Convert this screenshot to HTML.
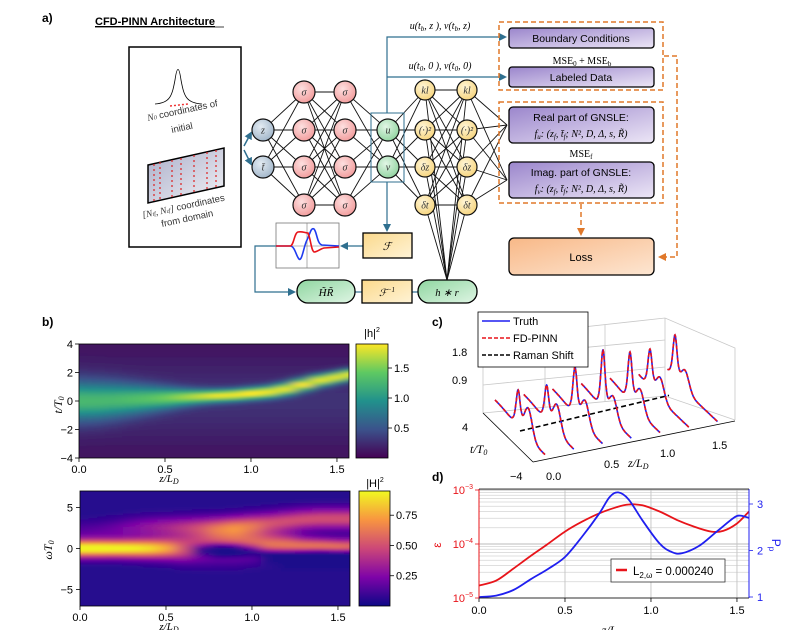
<!DOCTYPE html>
<html><head><meta charset="utf-8">
<style>
html,body{margin:0;padding:0;background:#fff;}
svg{display:block;font-family:"Liberation Sans",sans-serif;}
.serif{font-family:"Liberation Serif",serif;font-style:italic;}
</style></head>
<body>
<svg id="fig" width="792" height="630" viewBox="0 0 792 630" xmlns="http://www.w3.org/2000/svg">
<defs>
  <linearGradient id="boxPurple" x1="0" y1="0" x2="1" y2="1"><stop offset="0" stop-color="#9b86cc"/><stop offset="1" stop-color="#ece6f6"/></linearGradient>
  <linearGradient id="boxOrange" x1="0" y1="0" x2="1" y2="1"><stop offset="0" stop-color="#f8b887"/><stop offset="1" stop-color="#fde6d2"/></linearGradient>
  <linearGradient id="boxYellow" x1="0" y1="0" x2="1" y2="1"><stop offset="0" stop-color="#fbd98c"/><stop offset="1" stop-color="#fff3d6"/></linearGradient>
  <linearGradient id="boxGreen" x1="0" y1="0" x2="1" y2="1"><stop offset="0" stop-color="#8fd6a0"/><stop offset="1" stop-color="#dff5e4"/></linearGradient>
  <linearGradient id="domainGrad" x1="0" y1="0" x2="1" y2="1"><stop offset="0" stop-color="#a9adc8"/><stop offset="1" stop-color="#f2f2f6"/></linearGradient>
  <radialGradient id="nodeRed" cx="0.4" cy="0.35" r="0.7"><stop offset="0" stop-color="#fde0e0"/><stop offset="1" stop-color="#f29a9a"/></radialGradient>
  <radialGradient id="nodeBlue" cx="0.4" cy="0.35" r="0.7"><stop offset="0" stop-color="#e4ecf3"/><stop offset="1" stop-color="#9fb4c8"/></radialGradient>
  <radialGradient id="nodeGreen" cx="0.4" cy="0.35" r="0.7"><stop offset="0" stop-color="#e2f6e6"/><stop offset="1" stop-color="#8fd39e"/></radialGradient>
  <radialGradient id="nodeYellow" cx="0.4" cy="0.35" r="0.7"><stop offset="0" stop-color="#fff6d8"/><stop offset="1" stop-color="#f6d37a"/></radialGradient>
  <linearGradient id="cbViridis" x1="0" y1="1" x2="0" y2="0"><stop offset="0" stop-color="#440154"/><stop offset="0.25" stop-color="#3b528b"/><stop offset="0.5" stop-color="#21918c"/><stop offset="0.75" stop-color="#5ec962"/><stop offset="1" stop-color="#fde725"/></linearGradient>
  <linearGradient id="cbPlasma" x1="0" y1="1" x2="0" y2="0"><stop offset="0" stop-color="#0d0887"/><stop offset="0.25" stop-color="#7e03a8"/><stop offset="0.5" stop-color="#cc4778"/><stop offset="0.75" stop-color="#f89540"/><stop offset="1" stop-color="#f0f921"/></linearGradient>
  <filter id="hblur" x="-10%" y="-10%" width="120%" height="120%"><feGaussianBlur stdDeviation="7 1"/></filter>
  <clipPath id="clipH1"><rect x="79" y="344" width="270" height="114"/></clipPath>
  <clipPath id="clipH2"><rect x="80" y="491" width="270" height="115"/></clipPath>
  <marker id="arrBlue" markerWidth="8" markerHeight="8" refX="6" refY="4" orient="auto" markerUnits="userSpaceOnUse"><path d="M0,0 L8,4 L0,8 z" fill="#2f6f8f"/></marker>
  <marker id="arrOrange" markerWidth="8" markerHeight="8" refX="6" refY="4" orient="auto" markerUnits="userSpaceOnUse"><path d="M0,0 L8,4 L0,8 z" fill="#e0782a"/></marker>
</defs>

<!-- ================= PANEL A ================= -->
<g>
  <text x="42" y="22" font-size="12" font-weight="bold">a)</text>
  <text x="95" y="25" font-size="11" font-weight="bold" text-decoration="underline">CFD-PINN Architecture</text>
  <line x1="95" y1="27" x2="224" y2="27" stroke="#000" stroke-width="0.8"/>

  <g>
    <rect x="129" y="47" width="112" height="200" fill="#fff" stroke="#000" stroke-width="1.5"/>
    <path d="M155,104 C170,103 172,96 175,80 C177,66 179,66 181,80 C184,96 186,103 202,104" fill="none" stroke="#000" stroke-width="0.8"/>
    <line x1="170" y1="106" x2="188" y2="104" stroke="#e33" stroke-width="1.5" stroke-dasharray="2 2"/>
    <text x="148" y="121" font-size="9.5" fill="#333" transform="rotate(-12 148 121)"><tspan class="serif">N</tspan><tspan font-size="6" class="serif">0</tspan> coordinates of</text>
    <text x="172" y="133" font-size="9.5" fill="#333" transform="rotate(-12 172 133)">initial</text>
    <polygon points="148,165 224,148 224,186 148,203" fill="url(#domainGrad)" stroke="#000" stroke-width="1.5"/>
    <g stroke="#d22" stroke-width="1.2" stroke-dasharray="2 3">
      <line x1="154" y1="164" x2="154" y2="202"/><line x1="160" y1="162" x2="160" y2="200"/><line x1="172" y1="160" x2="172" y2="198"/>
      <line x1="181" y1="158" x2="181" y2="196"/><line x1="194" y1="155" x2="194" y2="193"/><line x1="207" y1="152" x2="207" y2="190"/>
      <line x1="216" y1="150" x2="216" y2="188"/>
    </g>
    <text x="143" y="218" font-size="9.5" fill="#333" transform="rotate(-12 143 218)"><tspan class="serif">[N</tspan><tspan font-size="6" class="serif">tf</tspan><tspan class="serif">, N</tspan><tspan font-size="6" class="serif">zf</tspan><tspan class="serif">]</tspan> coordinates</text>
    <text x="162" y="227" font-size="9.5" fill="#333" transform="rotate(-12 162 227)">from domain</text>
  </g>
  <line x1="244" y1="146" x2="251" y2="133" stroke="#2f6f8f" stroke-width="1.5" marker-end="url(#arrBlue)"/>
  <line x1="244" y1="150" x2="251" y2="164" stroke="#2f6f8f" stroke-width="1.5" marker-end="url(#arrBlue)"/>

  <g id="netLines"></g>
  <rect x="371" y="113" width="33" height="69" fill="none" stroke="#2f6f8f" stroke-width="1"/>
  <g id="netNodes"></g>

  <g stroke="#2f6f8f" stroke-width="1.2" fill="none">
    <polyline points="387,113 387,37 505,37" marker-end="url(#arrBlue)"/>
    <polyline points="387,77 505,77" marker-end="url(#arrBlue)"/>
    <polyline points="387,182 387,230" marker-end="url(#arrBlue)"/>
    <polyline points="363,246 342,246" marker-end="url(#arrBlue)"/>
    <polyline points="276,246 255,246 255,292 294,292" marker-end="url(#arrBlue)"/>
    <line x1="355" y1="292" x2="362" y2="292"/>
    <line x1="412" y1="292" x2="418" y2="292"/>
  </g>
  <text x="440" y="29" font-size="10" class="serif" text-anchor="middle">u(t<tspan font-size="7" dy="2">b</tspan><tspan dy="-2">, z ), v(t</tspan><tspan font-size="7" dy="2">b</tspan><tspan dy="-2">, z)</tspan></text>
  <text x="440" y="69" font-size="10" class="serif" text-anchor="middle">u(t<tspan font-size="7" dy="2">0</tspan><tspan dy="-2">, 0 ), v(t</tspan><tspan font-size="7" dy="2">0</tspan><tspan dy="-2">, 0)</tspan></text>

  <g>
    <rect x="363" y="233" width="49" height="25" fill="url(#boxYellow)" stroke="#000" stroke-width="1.3"/>
    <text x="387" y="250" font-size="11" class="serif" text-anchor="middle">ℱ</text>
  </g>
  <g>
    <rect x="276" y="223" width="63" height="45" fill="#fff" stroke="#777" stroke-width="0.8"/>
    <line x1="307" y1="223" x2="307" y2="268" stroke="#777" stroke-width="0.6"/>
    <line x1="276" y1="246" x2="339" y2="246" stroke="#777" stroke-width="0.6"/>
    <path d="M276,246 L290,246 C295,246 296,256 299,259 C302,262 304,245 307,240 C310,234 311,227 314,229 C317,232 317,244 322,245 L339,246" fill="none" stroke="#1f3cf0" stroke-width="1.6"/>
    <path d="M276,246 L290,246 C294,246 294,233 298,232 C302,231 305,233 308,233 C311,240 311,250 314,252 C317,252 320,249 324,248 L339,247" fill="none" stroke="#e8141a" stroke-width="1.6"/>
  </g>
  <g>
    <rect x="297" y="280" width="58" height="23" rx="11" fill="url(#boxGreen)" stroke="#000" stroke-width="1.3"/>
    <text x="326" y="296" font-size="11" class="serif" text-anchor="middle">H̃R̃</text>
  </g>
  <g>
    <rect x="362" y="280" width="50" height="23" fill="url(#boxYellow)" stroke="#000" stroke-width="1.3"/>
    <text x="387" y="296" font-size="10" class="serif" text-anchor="middle">ℱ<tspan font-size="7" dy="-4">−1</tspan></text>
  </g>
  <g>
    <rect x="418" y="280" width="59" height="23" rx="11" fill="url(#boxGreen)" stroke="#000" stroke-width="1.3"/>
    <text x="447" y="296" font-size="10.5" class="serif" text-anchor="middle">h ∗ r</text>
  </g>

  <rect x="499" y="22" width="164" height="68" fill="none" stroke="#e0782a" stroke-width="1.5" stroke-dasharray="5 3"/>
  <rect x="499" y="102" width="164" height="101" fill="none" stroke="#e0782a" stroke-width="1.5" stroke-dasharray="5 3"/>
  <g>
    <rect x="509" y="28" width="145" height="20" rx="3" fill="url(#boxPurple)" stroke="#000" stroke-width="1.3"/>
    <text x="581" y="42" font-size="10.5" text-anchor="middle">Boundary Conditions</text>
  </g>
  <text x="582" y="64" font-size="10" font-family="Liberation Serif" text-anchor="middle">MSE<tspan font-size="7" dy="2">0</tspan><tspan dy="-2"> + MSE</tspan><tspan font-size="7" dy="2">b</tspan></text>
  <g>
    <rect x="509" y="67" width="145" height="20" rx="3" fill="url(#boxPurple)" stroke="#000" stroke-width="1.3"/>
    <text x="581" y="81" font-size="10.5" text-anchor="middle">Labeled Data</text>
  </g>
  <g>
    <rect x="509" y="107" width="145" height="36" rx="4" fill="url(#boxPurple)" stroke="#000" stroke-width="1.3"/>
    <text x="581" y="121" font-size="10.5" text-anchor="middle">Real part of GNSLE:</text>
    <text x="581" y="137" font-size="10" class="serif" text-anchor="middle">f<tspan font-size="7" dy="2">u</tspan><tspan dy="-2">: (z</tspan><tspan font-size="7" dy="2">f</tspan><tspan dy="-2">, t̄</tspan><tspan font-size="7" dy="2">f</tspan><tspan dy="-2">; N², D, Δ, s, R̃)</tspan></text>
  </g>
  <text x="581" y="157" font-size="10" font-family="Liberation Serif" text-anchor="middle">MSE<tspan font-size="7" dy="2">f</tspan></text>
  <g>
    <rect x="509" y="162" width="145" height="36" rx="4" fill="url(#boxPurple)" stroke="#000" stroke-width="1.3"/>
    <text x="581" y="176" font-size="10.5" text-anchor="middle">Imag. part of GNSLE:</text>
    <text x="581" y="192" font-size="10" class="serif" text-anchor="middle">f<tspan font-size="7" dy="2">v</tspan><tspan dy="-2">: (z</tspan><tspan font-size="7" dy="2">f</tspan><tspan dy="-2">, t̄</tspan><tspan font-size="7" dy="2">f</tspan><tspan dy="-2">; N², D, Δ, s, R̃)</tspan></text>
  </g>
  <g>
    <rect x="509" y="238" width="145" height="37" rx="5" fill="url(#boxOrange)" stroke="#000" stroke-width="1.3"/>
    <text x="581" y="261" font-size="11" text-anchor="middle">Loss</text>
  </g>
  <g stroke="#e0782a" stroke-width="1.5" fill="none" stroke-dasharray="5 3">
    <line x1="581" y1="204" x2="581" y2="234" marker-end="url(#arrOrange)"/>
    <polyline points="664,56 677,56 677,257 660,257" marker-end="url(#arrOrange)"/>
  </g>
</g>

<!-- ================= PANEL B ================= -->
<g>
  <text x="42" y="326" font-size="12" font-weight="bold">b)</text>
  <g clip-path="url(#clipH1)"><g id="heat1" filter="url(#hblur)"></g></g>
  <rect x="79" y="344" width="270" height="114" fill="none" stroke="#000" stroke-width="0.8"/>
  <g clip-path="url(#clipH2)"><g id="heat2" filter="url(#hblur)"></g></g>
  <rect x="80" y="491" width="270" height="115" fill="none" stroke="#000" stroke-width="0.8"/>
  <g id="heatAxes" font-size="11"></g>
  <g>
    <rect x="356" y="344" width="32" height="114" fill="url(#cbViridis)" stroke="#000" stroke-width="0.8"/>
    <text x="372" y="337" font-size="11" text-anchor="middle">|h|<tspan font-size="7" dy="-5">2</tspan></text>
  </g>
  <g>
    <rect x="359" y="491" width="31" height="115" fill="url(#cbPlasma)" stroke="#000" stroke-width="0.8"/>
    <text x="375" y="487" font-size="11" text-anchor="middle">|H|<tspan font-size="7" dy="-5">2</tspan></text>
  </g>
  <text x="62" y="405" font-size="12" class="serif" text-anchor="middle" transform="rotate(-90 62 405)">t/T<tspan font-size="8" dy="2">0</tspan></text>
  <text x="169" y="482" font-size="11" class="serif" text-anchor="middle">z/L<tspan font-size="8" dy="2">D</tspan></text>
  <text x="52" y="550" font-size="12" class="serif" text-anchor="middle" transform="rotate(-90 52 550)">ωT<tspan font-size="8" dy="2">0</tspan></text>
  <text x="169" y="630" font-size="11" class="serif" text-anchor="middle">z/L<tspan font-size="8" dy="2">D</tspan></text>
</g>

<!-- ================= PANEL C ================= -->
<g>
  <text x="432" y="326" font-size="12" font-weight="bold">c)</text>
  <g stroke="#c8c8c8" stroke-width="0.8" fill="none">
    <polyline points="483,413 483,338 665,318 735,348 735,420"/>
    <line x1="665" y1="318" x2="665" y2="396"/>
    <polyline points="483,413 665,396 735,420"/>
    <line x1="483" y1="385" x2="665" y2="367"/><line x1="483" y1="357" x2="665" y2="340"/>
    <line x1="545" y1="407" x2="545" y2="332"/><line x1="605" y1="402" x2="605" y2="325"/>
  </g>
  <g id="slices"></g>
  <g stroke="#000" stroke-width="0.8" fill="none">
    <line x1="483" y1="413" x2="533" y2="462"/>
    <line x1="533" y1="462" x2="735" y2="421"/>
  </g>
  <g font-size="11">
    <text x="452" y="356">1.8</text><text x="452" y="384">0.9</text>
    <text x="462" y="431">4</text><text x="510" y="480">−4</text>
    <text x="546" y="480">0.0</text><text x="604" y="468">0.5</text><text x="660" y="457">1.0</text><text x="712" y="449">1.5</text>
  </g>
  <text x="470" y="453" font-size="12" class="serif">t/T<tspan font-size="8" dy="2">0</tspan></text>
  <text x="628" y="467" font-size="12" class="serif">z/L<tspan font-size="8" dy="2">D</tspan></text>
  <g>
    <rect x="478" y="312" width="110" height="55" fill="#fff" stroke="#000" stroke-width="0.8"/>
    <line x1="482" y1="321" x2="510" y2="321" stroke="#1f1ff0" stroke-width="1.5"/>
    <text x="513" y="325" font-size="11">Truth</text>
    <line x1="482" y1="338" x2="510" y2="338" stroke="#e8141a" stroke-width="1.5" stroke-dasharray="4 2"/>
    <text x="513" y="342" font-size="11">FD-PINN</text>
    <line x1="482" y1="355" x2="510" y2="355" stroke="#000" stroke-width="1.5" stroke-dasharray="4 2"/>
    <text x="513" y="359" font-size="11">Raman Shift</text>
  </g>
</g>

<!-- ================= PANEL D ================= -->
<g>
  <text x="432" y="481" font-size="12" font-weight="bold">d)</text>
  <g id="dplot"></g>
</g>
</svg>

<script>
const NS='http://www.w3.org/2000/svg';
function mk(parent,tag,attrs){const e=document.createElementNS(NS,tag);for(const k in attrs)e.setAttribute(k,attrs[k]);parent.appendChild(e);return e;}

/* ---------- network ---------- */
const netLines=document.getElementById('netLines');
const netNodes=document.getElementById('netNodes');
const L0=[[263,130],[263,167]];
const L1=[[304,92],[304,130],[304,167],[304,205]];
const L2=[[345,92],[345,130],[345,167],[345,205]];
const L3=[[388,130],[388,167]];
const L4=[[425,90],[425,130],[425,167],[425,205]];
const L5=[[467,90],[467,130],[467,167],[467,205]];
function connect(A,B){A.forEach(a=>B.forEach(b=>{const l=mk(netLines,'line',{x1:a[0],y1:a[1],x2:b[0],y2:b[1],stroke:'#111','stroke-width':0.9});

}));}
connect(L0,L1);connect(L1,L2);connect(L2,L3);connect(L3,L4);connect(L4,L5);
connect(L5,[[507,125],[507,180]]);
connect(L4.concat(L5),[[447,280]]);
function nodes(L,fill,labels,r){L.forEach((p,i)=>{const c=mk(netNodes,'circle',{cx:p[0],cy:p[1],r:r,fill:fill,stroke:'#111','stroke-width':1.2});


const t=mk(netNodes,'text',{x:p[0],y:p[1]+3.5,'font-size':10,'text-anchor':'middle','class':'serif',fill:'#333'});
t.textContent=labels[i];

});}
nodes(L0,'url(#nodeBlue)',['z','t̄'],11);
nodes(L1,'url(#nodeRed)',['σ','σ','σ','σ'],11);
nodes(L2,'url(#nodeRed)',['σ','σ','σ','σ'],11);
nodes(L3,'url(#nodeGreen)',['u','v'],11);
nodes(L4,'url(#nodeYellow)',['kl','(·)²','δz','δt'],10);
nodes(L5,'url(#nodeYellow)',['kl','(·)²','δz','δt'],10);

/* ---------- colormaps ---------- */
function cmap(stops,v){v=Math.max(0,Math.min(1,v));const n=stops.length-1;const i=Math.min(n-1,Math.floor(v*n));const f=v*n-i;
const a=stops[i],b=stops[i+1];const c=[0,1,2].map(k=>Math.round(a[k]+(b[k]-a[k])*f));return 'rgb('+c.join(',')+')';}
const VIR=[[68,1,84],[59,82,139],[33,145,140],[94,201,98],[253,231,37]];
const PLA=[[13,8,135],[126,3,168],[204,71,120],[248,149,64],[240,249,33]];

/* ---------- heatmap 1 data ---------- */
const h1Z=[0,0.1,0.2,0.3,0.4,0.5,0.6,0.7,0.8,0.9,1.0,1.1,1.2,1.3,1.4,1.5,1.57];
const h1PeakT=[0,0,0.05,0.1,0.15,0.2,0.25,0.3,0.35,0.4,0.5,0.6,0.8,1.1,1.4,1.6,1.8];
const h1Amp=[1.0,1.0,1.0,1.05,1.1,1.2,1.35,1.5,1.65,1.75,1.8,1.8,1.75,1.75,1.8,1.85,1.85];
const h1Width=[1.3,1.25,1.15,1.0,0.85,0.7,0.55,0.45,0.4,0.38,0.38,0.38,0.4,0.4,0.38,0.36,0.35];
const h1Vmax=1.9;
/* ---------- heatmap 2 data ---------- */
const h2Z=[0,0.1,0.2,0.3,0.4,0.5,0.6,0.7,0.8,0.9,1.0,1.1,1.2,1.3,1.4,1.5,1.57];
const h2MainW=[0,0,0,0,0,0,0,0.2,0.5,0.6,0.5,0.4,0.4,0.3,0.3,0.2,0.2];
const h2MainAmp=[0.95,0.95,0.93,0.9,0.85,0.72,0.55,0.45,0.45,0.5,0.55,0.58,0.58,0.58,0.58,0.58,0.55];
const h2MainWidth=[1.0,1.0,1.0,1.05,1.1,1.2,1.4,1.6,1.8,1.8,1.6,1.4,1.2,1.0,0.9,0.9,0.9];
const h2WingW=[2,2,2.2,2.4,2.5,2.5,2.5,2.5,2.5,2.6,2.8,3,3.2,3.4,3.5,3.5,3.5];
const h2WingAmp=[0.1,0.12,0.15,0.2,0.25,0.3,0.35,0.4,0.45,0.5,0.5,0.45,0.45,0.45,0.45,0.45,0.45];
const h2HoleW=[0,0,0,0,0,0,0,-0.2,-0.2,-0.2,-0.3,-0.8,-1,-1,-1,-1,-1];
const h2HoleAmp=[0,0,0,0,0,0,0.1,0.4,0.65,0.6,0.4,0.35,0.4,0.45,0.45,0.45,0.45];
const h2Vmax=0.95;

const zx1=z=>79+z/1.57*270, ty1=t=>401-t/4*57;
const zx2=z=>80+z/1.57*270, wy2=w=>548.5-w/7*57.5;

function drawHeat(gid,Z,zx,tMin,tMax,ty,valFn,stops,vmax,name){
  const g=document.getElementById(gid);
  for(let i=0;i<Z.length;i++){
    const gid2=gid+'g'+i;
    const lg=mk(document.querySelector('defs'),'linearGradient',{id:gid2,x1:0,y1:0,x2:0,y2:1});
    const N=40;
    for(let k=0;k<=N;k++){const t=tMax-(tMax-tMin)*k/N;const v=valFn(i,t)/vmax;
      mk(lg,'stop',{offset:k/N,'stop-color':cmap(stops,v)});}
    const xa=i==0?zx(Z[0])-20:(zx(Z[i-1])+zx(Z[i]))/2;
    const xb=i==Z.length-1?zx(Z[i])+20:(zx(Z[i])+zx(Z[i+1]))/2;
    const r=mk(g,'rect',{x:xa,y:ty(tMax)-2,width:xb-xa+0.5,height:ty(tMin)-ty(tMax)+4,fill:'url(#'+gid2+')'});
    
    
  }
}
drawHeat('heat1',h1Z,zx1,-4,4,ty1,(i,t)=>0.06+0.22*Math.exp(-(t/3)*(t/3))+h1Amp[i]*Math.exp(-Math.pow((t-h1PeakT[i])/h1Width[i],2)),VIR,h1Vmax,'heat1-column');
drawHeat('heat2',h2Z,zx2,-7,7,wy2,(i,w)=>Math.max(0.03,0.05+h2MainAmp[i]*Math.exp(-Math.pow((w-h2MainW[i])/h2MainWidth[i],2))+h2WingAmp[i]*Math.exp(-Math.pow((w-h2WingW[i])/1.2,2))-h2HoleAmp[i]*Math.exp(-Math.pow((w-h2HoleW[i])/0.7,2))),PLA,h2Vmax,'heat2-column');

const zTicks=[0,0.5,1.0,1.5];const zTickLabels=['0.0','0.5','1.0','1.5'];
const tTicks=[4,2,0,-2,-4];const tTickLabels=['4','2','0','−2','−4'];
const wTicks=[5,0,-5];const wTickLabels=['5','0','−5'];
const cb1Ticks=[1.5,1.0,0.5];const cb1Labels=['1.5','1.0','0.5'];
const cb2Ticks=[0.75,0.5,0.25];const cb2Labels=['0.75','0.50','0.25'];
const ax=document.getElementById('heatAxes');
function tick(x1,y1,x2,y2){const l=mk(ax,'line',{x1,y1,x2,y2,stroke:'#000','stroke-width':0.8});

}
function lab(x,y,s,anchor){const t=mk(ax,'text',{x,y,'text-anchor':anchor});t.textContent=s;

}
zTicks.forEach((z,i)=>{tick(zx1(z),458,zx1(z),462);lab(zx1(z),473,zTickLabels[i],'middle');tick(zx2(z),606,zx2(z),610);lab(zx2(z),621,zTickLabels[i],'middle');});
tTicks.forEach((t,i)=>{tick(75,ty1(t),79,ty1(t));lab(73,ty1(t)+4,tTickLabels[i],'end');});
wTicks.forEach((w,i)=>{tick(76,wy2(w),80,wy2(w));lab(73,wy2(w)+4,wTickLabels[i],'end');});
cb1Ticks.forEach((v,i)=>{const y=458-v/h1Vmax*114;tick(388,y,392,y);lab(394,y+4,cb1Labels[i],'start');});
cb2Ticks.forEach((v,i)=>{const y=606-v/h2Vmax*115;tick(390,y,394,y);lab(396,y+4,cb2Labels[i],'start');});

/* ---------- panel c ---------- */
const cSliceZ=[0,0.25,0.5,0.75,1.0,1.25,1.5];
const cPeakT=[0.3,0.33,0.4,0.52,0.8,2.2,2.8];
const cPeakH=[0.9,0.88,1.19,1.46,1.23,0.96,1.09];
const cShoulderH=[0.75,0.7,0.65,0.6,0.6,0.55,0.5];
const ramanZ=[0,1.35];
const ramanT=[0,1.0];
const P3=(z,t,h)=>[520+115*z-6.25*t,431-22*z-5.9*t-40*h];
function prof(i,t){const s=1/Math.cosh((t-cPeakT[i])/0.45);
  return 0.2/(1+Math.exp(-(t-cPeakT[i]-1)))+cPeakH[i]*s*s+cShoulderH[i]*Math.exp(-Math.pow((t-cPeakT[i]+1.6)/0.9,2));}
const sg=document.getElementById('slices');
{const a=P3(ramanZ[0],ramanT[0],0),b=P3(ramanZ[1],ramanT[1],0);
 const l=mk(sg,'line',{x1:a[0],y1:a[1],x2:b[0],y2:b[1],stroke:'#000','stroke-width':1.6,'stroke-dasharray':'5 3'});
 
 }
cSliceZ.forEach((z,i)=>{
  let d='';for(let k=0;k<=160;k++){const t=4-k*0.05;const p=P3(z,t,prof(i,t));d+=(k?'L':'M')+p[0].toFixed(1)+','+p[1].toFixed(1);}
  const b=mk(sg,'path',{d,fill:'none',stroke:'#1f1ff0','stroke-width':1.6});
  
  
  const r=mk(sg,'path',{d,fill:'none',stroke:'#e8141a','stroke-width':1.6,'stroke-dasharray':'4 2'});
  
  
});

/* ---------- panel d ---------- */
const dZ=[0,0.1,0.2,0.3,0.4,0.5,0.6,0.7,0.8,0.87,0.95,1.05,1.15,1.25,1.35,1.42,1.5,1.57];
const dErr=[1.7e-5,2.1e-5,3.5e-5,6e-5,1.0e-4,1.7e-4,2.6e-4,3.7e-4,4.8e-4,5.4e-4,5.2e-4,4.0e-4,2.8e-4,2.1e-4,1.7e-4,1.75e-4,2.4e-4,4.0e-4];
const pZ=[0,0.1,0.2,0.3,0.4,0.5,0.6,0.7,0.76,0.81,0.87,0.95,1.05,1.12,1.18,1.28,1.38,1.48,1.52,1.57];
const pVal=[1.0,1.03,1.15,1.38,1.6,1.86,2.3,2.8,3.15,3.25,3.1,2.65,2.15,1.97,1.94,2.1,2.4,2.7,2.75,2.7];
const dXTicks=[0,0.5,1.0,1.5];const dXLabels=['0.0','0.5','1.0','1.5'];
const dPTicks=[1,2,3];const dPLabels=['1','2','3'];
const dExp=[-5,-4,-3];
const dx=z=>479+z/1.57*270;
const dy=e=>598-(Math.log10(e)+5)*54;
const py=p=>597-(p-1)*46.5;
const dg=document.getElementById('dplot');
function dl(x1,y1,x2,y2,col,w,name){const l=mk(dg,'line',{x1,y1,x2,y2,stroke:col,'stroke-width':w});

}
for(let e=-5;e<-3;e++)for(let m=1;m<10;m++){const y=dy(m*Math.pow(10,e));dl(479,y,749,y,m==1?'#bbb':'#d4d4d4',m==1?0.9:0.7,'log-gridline');}
dl(479,dy(1e-3),749,dy(1e-3),'#bbb',0.9,'log-gridline');
dXTicks.forEach((z,i)=>{dl(dx(z),489,dx(z),598,'#c4c4c4',0.9,'x-gridline');dl(dx(z),598,dx(z),602,'#000',0.8,'x-tick');
  const t=mk(dg,'text',{x:dx(z),y:614,'font-size':11,'text-anchor':'middle'});t.textContent=dXLabels[i];
  
  });
dExp.forEach(e=>{const y=dy(Math.pow(10,e));dl(475,y,479,y,'#e8141a',0.8,'eps-tick');
  const t=mk(dg,'text',{x:473,y:y+4,'font-size':11,'text-anchor':'end',fill:'#e8141a'});t.textContent='10';
  const s=mk(t,'tspan',{'font-size':7,dy:-5});s.textContent='−'+(-e);
  
  });
dPTicks.forEach((p,i)=>{dl(749,py(p),753,py(p),'#1f1ff0',0.8,'p-tick');
  const t=mk(dg,'text',{x:757,y:py(p)+4,'font-size':11,fill:'#1f1ff0'});t.textContent=dPLabels[i];
  
  });
function smooth(pts){let d='M'+pts[0][0]+','+pts[0][1];for(let i=0;i<pts.length-1;i++){const p0=pts[Math.max(0,i-1)],p1=pts[i],p2=pts[i+1],p3=pts[Math.min(pts.length-1,i+2)];
 d+='C'+(p1[0]+(p2[0]-p0[0])/6).toFixed(1)+','+(p1[1]+(p2[1]-p0[1])/6).toFixed(1)+' '+(p2[0]-(p3[0]-p1[0])/6).toFixed(1)+','+(p2[1]-(p3[1]-p1[1])/6).toFixed(1)+' '+p2[0].toFixed(1)+','+p2[1].toFixed(1);}return d;}
{const e=mk(dg,'path',{d:smooth(dZ.map((z,i)=>[dx(z),dy(dErr[i])])),fill:'none',stroke:'#e8141a','stroke-width':1.8});
 
 
 const p=mk(dg,'path',{d:smooth(pZ.map((z,i)=>[dx(z),py(pVal[i])])),fill:'none',stroke:'#1f1ff0','stroke-width':1.8});
 
 }
dl(479,489,479,598,'#e8141a',1,'left-axis');
dl(749,489,749,598,'#1f1ff0',1,'right-axis');
dl(479,598,749,598,'#000',0.8,'bottom-axis');
dl(479,489,749,489,'#000',0.8,'top-axis');
{const r=mk(dg,'rect',{x:611,y:559,width:114,height:23,fill:'#fff',stroke:'#333','stroke-width':0.8});
 
 
 dl(616,570,627,570,'#e8141a',2.5,'legend-swatch');
 const t=mk(dg,'text',{x:633,y:575,'font-size':11.5});t.textContent='L';
 const s1=mk(t,'tspan',{'font-size':8,dy:3});s1.textContent='2,ω';
 const s2=mk(t,'tspan',{dy:-3});s2.textContent=' = 0.000240';
 
 
 const ey=mk(dg,'text',{x:441,y:545,'font-size':12,fill:'#e8141a','text-anchor':'middle',transform:'rotate(-90 441 545)'});ey.textContent='ε';
 
 
 const pp=mk(dg,'text',{x:772,y:545,'font-size':12,fill:'#1f1ff0','text-anchor':'middle',transform:'rotate(90 772 545)'});pp.textContent='P';
 const ps=mk(pp,'tspan',{'font-size':8,dy:3});ps.textContent='p';
 
 
 const zt=mk(dg,'text',{x:612,y:634,'font-size':12,'class':'serif','text-anchor':'middle'});zt.textContent='z/L';
 const zs=mk(zt,'tspan',{'font-size':8,dy:2});zs.textContent='D';
 
 }
</script>
</body></html>
